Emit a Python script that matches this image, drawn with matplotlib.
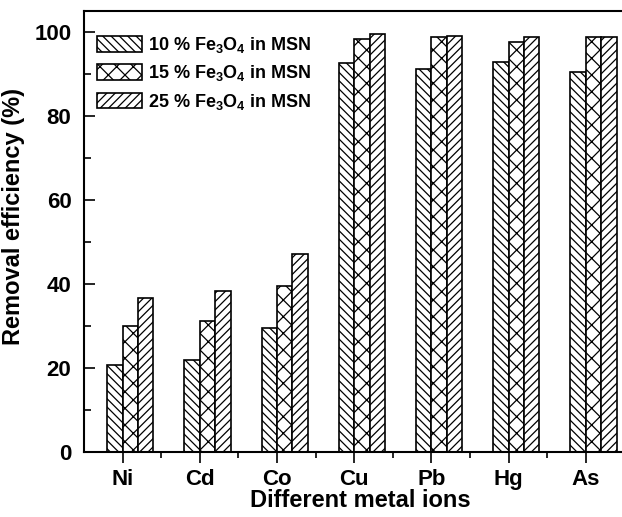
import matplotlib
matplotlib.use("Agg")
import matplotlib.pyplot as plt
import numpy as np
from matplotlib.ticker import MultipleLocator, FixedLocator

# Removal efficiency (%) of each metal ion for three Fe3O4 loadings
ions = ["Ni", "Cd", "Co", "Cu", "Pb", "Hg", "As"]
fe10 = [20.6, 22.0, 29.6, 92.7, 91.3, 92.8, 90.4]
fe15 = [30.0, 31.2, 39.5, 98.3, 98.8, 97.6, 98.7]
fe25 = [36.7, 38.3, 47.1, 99.6, 99.0, 98.8, 98.9]
labels = [r"10 % Fe$_{3}$O$_{4}$ in MSN",
          r"15 % Fe$_{3}$O$_{4}$ in MSN",
          r"25 % Fe$_{3}$O$_{4}$ in MSN"]
hatches = ["\\" * 4, "xx", "/" * 4]

plt.rcParams["font.family"] = ["Liberation Sans", "DejaVu Sans"]
plt.rcParams["font.weight"] = "bold"
plt.rcParams["mathtext.fontset"] = "custom"
plt.rcParams["mathtext.rm"] = "Liberation Sans:bold"
plt.rcParams["mathtext.bf"] = "Liberation Sans:bold"
plt.rcParams["mathtext.it"] = "Liberation Sans:bold"
plt.rcParams["mathtext.default"] = "bf"
plt.rcParams["hatch.linewidth"] = 0.9

fig = plt.figure(figsize=(6.22, 5.17), dpi=100)
ax = fig.add_axes([0.1350, 0.1257, 0.8687, 0.853])

x = np.arange(len(ions))
w = 0.2
series = [fe10, fe15, fe25]
for i, (vals, h, lab) in enumerate(zip(series, hatches, labels)):
    ax.bar(x + (i - 0.5) * w, vals, w, facecolor="white", edgecolor="black",
           linewidth=1.2, hatch=h, label=lab)

ax.set_xlim(-0.5, len(ions) - 0.5)
ax.set_ylim(0, 105)
ax.set_xticks(x)
ax.set_xticklabels(ions)
ax.xaxis.set_minor_locator(FixedLocator(x[:-1] + 0.5))
ax.yaxis.set_major_locator(MultipleLocator(20))
ax.yaxis.set_minor_locator(MultipleLocator(10))

ax.tick_params(axis="x", which="major", direction="out", length=8, width=1.2,
               labelsize=16, pad=4)
ax.tick_params(axis="x", which="minor", direction="out", length=4, width=1.2)
ax.tick_params(axis="y", which="major", direction="in", length=8, width=1.2,
               labelsize=16, pad=9)
ax.tick_params(axis="y", which="minor", direction="in", length=5, width=1.2)

for s in ax.spines.values():
    s.set_linewidth(1.5)

ax.set_xlabel("Different metal ions", fontsize=17, fontweight="bold")
ax.set_ylabel("Removal efficiency (%)", fontsize=17, fontweight="bold")
ax.xaxis.set_label_coords(0.512, -0.083)
ax.yaxis.set_label_coords(-0.11, 0.535)

ax.legend(loc="upper left", bbox_to_anchor=(0.0235, 0.945), frameon=False,
          fontsize=13, handlelength=2.5, handleheight=0.95, handletextpad=0.35,
          labelspacing=0.45, borderpad=0, borderaxespad=0)

fig.savefig("out.png", dpi=100)
